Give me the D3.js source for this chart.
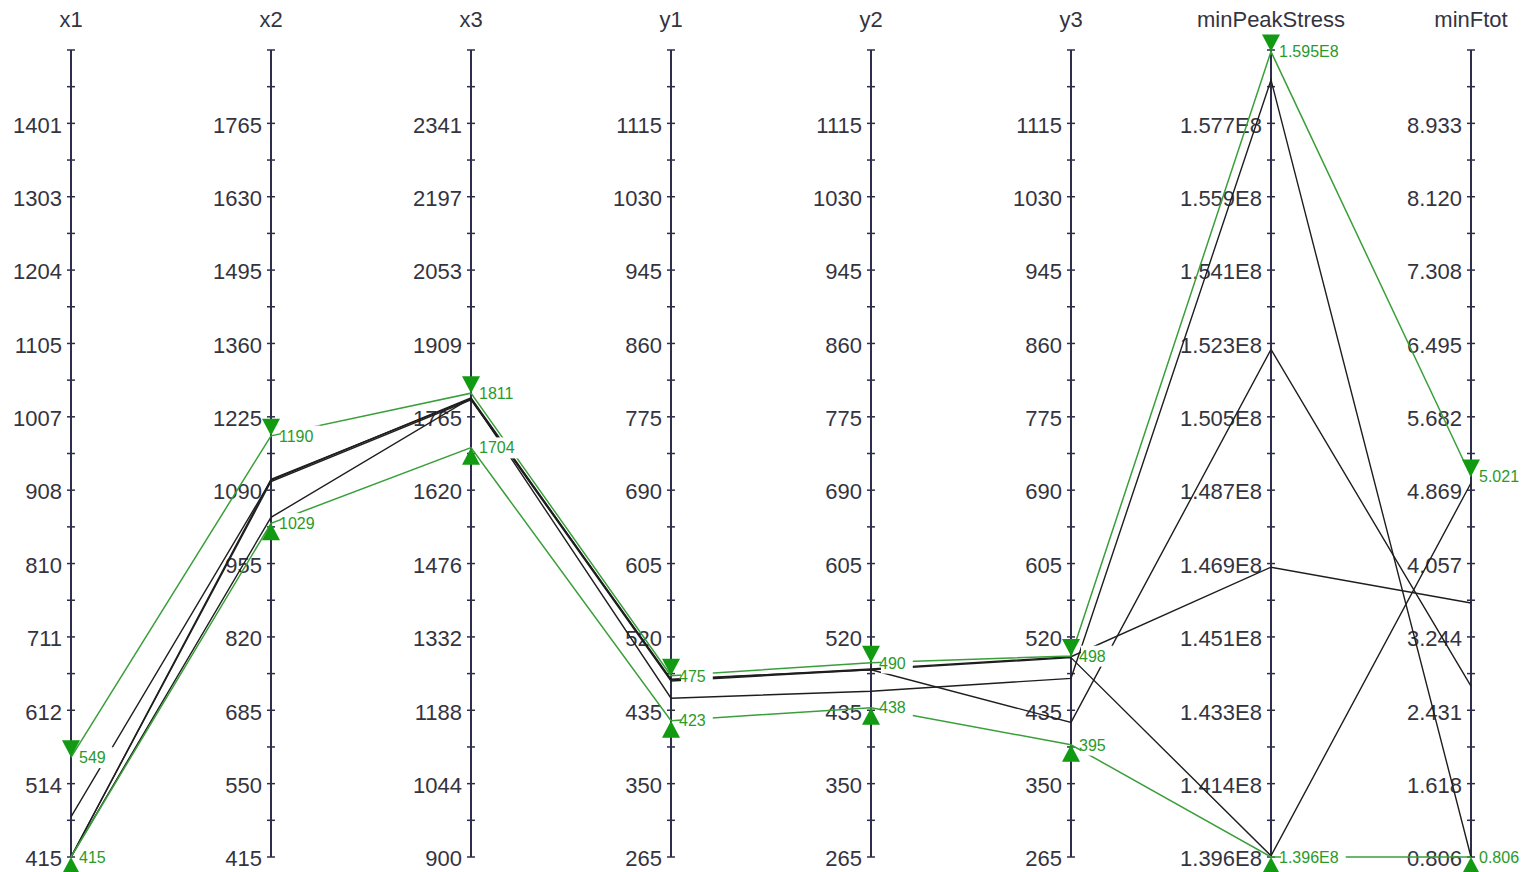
<!DOCTYPE html>
<html>
<head>
<meta charset="utf-8">
<script src="https://cdn.jsdelivr.net/npm/d3@7/dist/d3.min.js"></script>
<style>
  html, body { margin: 0; padding: 0; background: #ffffff; }
  svg { display: block; font-family: "Liberation Sans", Arial, sans-serif; }
</style>
</head>
<body>
<svg id="chart" width="1527" height="872"></svg>
<script>
// Parallel coordinates of design variables and objectives

const dimensions = ["x1", "x2", "x3", "y1", "y2", "y3", "minPeakStress", "minFtot"];

// Axis ranges (bottom value, top value)
const domainMin = [415, 415, 900, 265, 265, 265, 1.396e8, 0.806];
const domainMax = [1500, 1900, 2485, 1200, 1200, 1200, 1.5954e8, 9.746];

// Labelled ticks, bottom to top
const tickLabels = [
  ["415", "514", "612", "711", "810", "908", "1007", "1105", "1204", "1303", "1401"],
  ["415", "550", "685", "820", "955", "1090", "1225", "1360", "1495", "1630", "1765"],
  ["900", "1044", "1188", "1332", "1476", "1620", "1765", "1909", "2053", "2197", "2341"],
  ["265", "350", "435", "520", "605", "690", "775", "860", "945", "1030", "1115"],
  ["265", "350", "435", "520", "605", "690", "775", "860", "945", "1030", "1115"],
  ["265", "350", "435", "520", "605", "690", "775", "860", "945", "1030", "1115"],
  ["1.396E8", "1.414E8", "1.433E8", "1.451E8", "1.469E8", "1.487E8", "1.505E8", "1.523E8", "1.541E8", "1.559E8", "1.577E8"],
  ["0.806", "1.618", "2.431", "3.244", "4.057", "4.869", "5.682", "6.495", "7.308", "8.120", "8.933"]
];

// Upper and lower bound lines (green, with markers)
const upperBound = [549, 1190, 1811, 475, 490, 498, 1.595e8, 5.021];
const lowerBound = [415, 1029, 1704, 423, 438, 395, 1.396e8, 0.806];

// Designs (black lines)
const design1 = [469, 1108, 1802, 470, 483, 497, 1.4676e8, 3.62];
const design2 = [415, 1110, 1800, 471, 482, 421, 1.5214e8, 2.70];
const design3 = [415, 1106, 1798, 469, 482, 496, 1.3963e8, 4.949];
const design4 = [415, 1040, 1801, 449, 457, 472, 1.588e8, 0.806];
const designs = [design1, design2, design3, design4];

const axisColor = "#2e2e4c";
const labelColor = "#34343f";
const lineColor = "#1e1e1e";
const boundColor = "#3a9f3a";
const markerColor = "#129a12";
const boundTextColor = "#2a9a2a";

const svg = d3.select("#chart");
svg.append("rect").attr("width", 1527).attr("height", 872).attr("fill", "#ffffff");

const axisTop = 50, axisBottom = 857;
const xPos = d3.scalePoint().domain(dimensions).range([71, 1471]);
const yScales = dimensions.map((d, i) =>
  d3.scaleLinear().domain([domainMin[i], domainMax[i]]).range([axisBottom, axisTop]));

const nSteps = 11;

// Axes
dimensions.forEach((dim, i) => {
  const x = xPos(dim);
  const s = yScales[i];
  const lo = domainMin[i], hi = domainMax[i];
  const step = (hi - lo) / nSteps;
  const g = svg.append("g").attr("class", "axis");

  g.append("line")
    .attr("x1", x).attr("x2", x)
    .attr("y1", s(hi)).attr("y2", s(lo))
    .attr("stroke", axisColor).attr("stroke-width", 2);

  // major, minor and end ticks
  const tickVals = d3.range(0, nSteps * 2 + 1).map(k => lo + k * step / 2);
  g.selectAll("line.tick").data(tickVals).join("line")
    .attr("class", "tick")
    .attr("x1", x - 4).attr("x2", x + 4)
    .attr("y1", d => s(d)).attr("y2", d => s(d))
    .attr("stroke", axisColor).attr("stroke-width", 1.5);

  g.selectAll("text.tl").data(tickLabels[i]).join("text")
    .attr("class", "tl")
    .attr("x", x - 9)
    .attr("y", (d, k) => s(lo + k * step))
    .attr("dy", "0.42em")
    .attr("text-anchor", "end")
    .attr("font-size", 22)
    .attr("fill", labelColor)
    .text(d => d);

  g.append("text")
    .attr("x", x)
    .attr("y", 27)
    .attr("text-anchor", "middle")
    .attr("font-size", 22)
    .attr("fill", labelColor)
    .text(dim);
});

const line = d3.line()
  .x((d, i) => xPos(dimensions[i]))
  .y((d, i) => yScales[i](d));

// design lines
svg.append("g").selectAll("path").data(designs).join("path")
  .attr("d", line)
  .attr("fill", "none")
  .attr("stroke", lineColor)
  .attr("stroke-width", 1.4);

// bound lines
svg.append("g").selectAll("path").data([upperBound, lowerBound]).join("path")
  .attr("d", line)
  .attr("fill", "none")
  .attr("stroke", boundColor)
  .attr("stroke-width", 1.5);

function fmt(i, v) {
  if (dimensions[i] === "minPeakStress") return (v / 1e8).toFixed(3) + "E8";
  if (dimensions[i] === "minFtot") return v.toFixed(3);
  return d3.format("d")(v);
}

// markers: downward triangle for the upper bound, upward for the lower bound
function drawMarkers(values, dir) {
  const g = svg.append("g");
  values.forEach((v, i) => {
    const x = xPos(dimensions[i]);
    const y = yScales[i](v);
    const h = 17 * dir;
    const bg = g.append("rect").attr("fill", "#ffffff");
    const t = g.append("text")
      .attr("x", x + 8)
      .attr("y", y)
      .attr("dy", "0.36em")
      .attr("font-size", 16)
      .attr("fill", boundTextColor)
      .text(fmt(i, v));
    const b = t.node().getBBox();
    bg.attr("x", b.x + 2).attr("y", b.y - 2)
      .attr("width", b.width + 5).attr("height", b.height + 4);
    g.append("path")
      .attr("d", `M${x - 9},${y - h}L${x + 9},${y - h}L${x},${y}Z`)
      .attr("fill", markerColor);
  });
}
drawMarkers(upperBound, 1);
drawMarkers(lowerBound, -1);
</script>
</body>
</html>
